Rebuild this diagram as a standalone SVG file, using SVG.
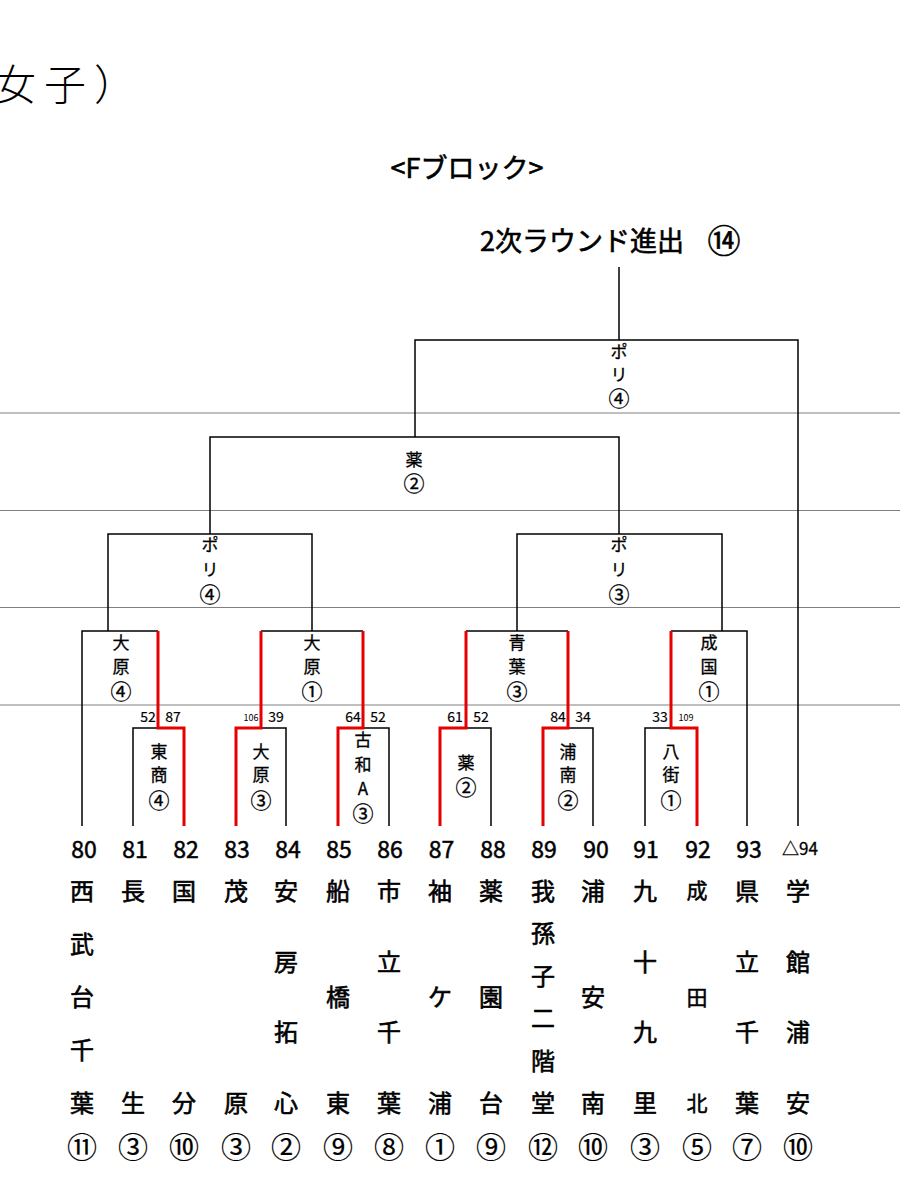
<svg xmlns="http://www.w3.org/2000/svg" width="900" height="1200" viewBox="0 0 900 1200">
<style>
text{font-family:"Noto Sans CJK JP","Noto Sans CJK SC",sans-serif;fill:#000}
.b{stroke:#000;stroke-width:1.5;fill:none}
.r{stroke:#e60000;stroke-width:3;fill:none}
.g{stroke:#808080;stroke-width:1}
.lb{font-size:17px;text-anchor:middle;stroke:#000;stroke-width:0.3}
.lc{font-size:21px}
.sc{font-size:14px;text-anchor:middle;stroke:#000;stroke-width:0.2}
.ss{font-size:9px;text-anchor:middle}
.num{font-size:23px;text-anchor:middle;stroke:#000;stroke-width:0.5}
.nm{font-size:24px;text-anchor:middle;stroke:#000;stroke-width:0.6}
.nm2{font-size:21px;text-anchor:middle;stroke:#000;stroke-width:0.5}
.ci{font-size:30px;text-anchor:middle;stroke:#000;stroke-width:0.2}
.hd{stroke:#000;stroke-width:0.6}
</style>
<rect width="900" height="1200" fill="#fff"/>
<g id="titles">
<text x="-6" y="100" font-size="42" font-weight="300" letter-spacing="8">女子）</text>
<text class="hd" x="467" y="178" font-size="27" text-anchor="middle">&lt;Fブロック&gt;</text>
<text class="hd" x="480" y="251" font-size="27">2次ラウンド進出</text>
<text class="hd" x="724" y="253" font-size="33" text-anchor="middle" stroke-width="0.3">⑭</text>
</g>
<g id="grid">
<line class="g" x1="0" y1="413" x2="900" y2="413"/>
<line class="g" x1="0" y1="510.5" x2="900" y2="510.5"/>
<line class="g" x1="0" y1="607.5" x2="900" y2="607.5"/>
<line class="g" x1="0" y1="705" x2="900" y2="705"/>
</g>
<g id="connectors">
<path class="b" d="M619,267V340M415,437V340H798V826"/>
<path class="b" d="M210,534V437H619V534"/>
<path class="b" d="M108,631V534H312V631"/>
<path class="b" d="M517,631V534H722V631"/>
<path class="b" d="M82,826V631H158"/>
<path class="b" d="M261,631H363"/>
<path class="b" d="M466,631H568"/>
<path class="b" d="M671,631H747V826"/>
<path class="b" d="M133,826V728H158"/>
<path class="b" d="M286,826V728H261"/>
<path class="b" d="M389,826V728H363"/>
<path class="b" d="M491,826V728H466"/>
<path class="b" d="M593,826V728H568"/>
<path class="b" d="M645,826V728H671"/>
<path class="r" d="M158,631V728H184V826"/>
<path class="r" d="M261,631V728H236V826"/>
<path class="r" d="M363,631V728H338V826"/>
<path class="r" d="M466,631V728H440V826"/>
<path class="r" d="M568,631V728H543V826"/>
<path class="r" d="M671,631V728H697V826"/>
</g>
<g id="scores">
<text class="sc" x="148" y="722">52</text><text class="sc" x="173" y="722">87</text>
<text class="ss" x="251" y="721">106</text><text class="sc" x="276" y="722">39</text>
<text class="sc" x="353" y="722">64</text><text class="sc" x="378" y="722">52</text>
<text class="sc" x="455" y="722">61</text><text class="sc" x="481" y="722">52</text>
<text class="sc" x="558" y="722">84</text><text class="sc" x="583" y="722">34</text>
<text class="sc" x="660" y="722">33</text><text class="ss" x="686" y="721">109</text>
</g>
<g id="winner-final"><text class="lb"><tspan x="619" y="358">ポ</tspan><tspan x="619" y="381">リ</tspan><tspan class="lc" x="619" y="406">④</tspan></text></g>
<g id="winner-sf1"><text class="lb"><tspan x="414" y="466">薬</tspan><tspan class="lc" x="414" y="491">②</tspan></text></g>
<g id="winner-qf1"><text class="lb"><tspan x="210" y="551">ポ</tspan><tspan x="210" y="576">リ</tspan><tspan class="lc" x="210" y="602">④</tspan></text></g>
<g id="winner-qf2"><text class="lb"><tspan x="619" y="551">ポ</tspan><tspan x="619" y="576">リ</tspan><tspan class="lc" x="619" y="602">③</tspan></text></g>
<g id="winner-r2a"><text class="lb"><tspan x="121" y="649">大</tspan><tspan x="121" y="673">原</tspan><tspan class="lc" x="121" y="699">④</tspan></text></g>
<g id="winner-r2b"><text class="lb"><tspan x="312" y="649">大</tspan><tspan x="312" y="673">原</tspan><tspan class="lc" x="312" y="699">①</tspan></text></g>
<g id="winner-r2c"><text class="lb"><tspan x="517" y="649">青</tspan><tspan x="517" y="673">葉</tspan><tspan class="lc" x="517" y="699">③</tspan></text></g>
<g id="winner-r2d"><text class="lb"><tspan x="709" y="649">成</tspan><tspan x="709" y="673">国</tspan><tspan class="lc" x="709" y="699">①</tspan></text></g>
<g id="winner-r1a"><text class="lb"><tspan x="159" y="758">東</tspan><tspan x="159" y="781">商</tspan><tspan class="lc" x="159" y="808">④</tspan></text></g>
<g id="winner-r1b"><text class="lb"><tspan x="261" y="758">大</tspan><tspan x="261" y="781">原</tspan><tspan class="lc" x="261" y="808">③</tspan></text></g>
<g id="winner-r1c"><text class="lb"><tspan x="363" y="746">古</tspan><tspan x="363" y="771">和</tspan><tspan x="363" y="795">A</tspan><tspan class="lc" x="363" y="821">③</tspan></text></g>
<g id="winner-r1d"><text class="lb"><tspan x="466" y="769">薬</tspan><tspan class="lc" x="466" y="795">②</tspan></text></g>
<g id="winner-r1e"><text class="lb"><tspan x="568" y="758">浦</tspan><tspan x="568" y="781">南</tspan><tspan class="lc" x="568" y="808">②</tspan></text></g>
<g id="winner-r1f"><text class="lb"><tspan x="671" y="758">八</tspan><tspan x="671" y="781">街</tspan><tspan class="lc" x="671" y="808">①</tspan></text></g>
<g id="team-80"><text class="num" x="84" y="858">80</text><text class="nm"><tspan x="82" y="900">西</tspan><tspan x="82" y="953">武</tspan><tspan x="82" y="1006">台</tspan><tspan x="82" y="1059">千</tspan><tspan x="82" y="1112">葉</tspan></text><text class="ci" x="82" y="1158">⑪</text></g>
<g id="team-81"><text class="num" x="135" y="858">81</text><text class="nm"><tspan x="133" y="900">長</tspan><tspan x="133" y="1112">生</tspan></text><text class="ci" x="133" y="1158">③</text></g>
<g id="team-82"><text class="num" x="186" y="858">82</text><text class="nm"><tspan x="184" y="900">国</tspan><tspan x="184" y="1112">分</tspan></text><text class="ci" x="184" y="1158">⑩</text></g>
<g id="team-83"><text class="num" x="237" y="858">83</text><text class="nm"><tspan x="236" y="900">茂</tspan><tspan x="236" y="1112">原</tspan></text><text class="ci" x="236" y="1158">③</text></g>
<g id="team-84"><text class="num" x="288" y="858">84</text><text class="nm"><tspan x="286" y="900">安</tspan><tspan x="286" y="971">房</tspan><tspan x="286" y="1041">拓</tspan><tspan x="286" y="1112">心</tspan></text><text class="ci" x="286" y="1158">②</text></g>
<g id="team-85"><text class="num" x="339" y="858">85</text><text class="nm"><tspan x="338" y="900">船</tspan><tspan x="338" y="1006">橋</tspan><tspan x="338" y="1112">東</tspan></text><text class="ci" x="338" y="1158">⑨</text></g>
<g id="team-86"><text class="num" x="390" y="858">86</text><text class="nm"><tspan x="389" y="900">市</tspan><tspan x="389" y="971">立</tspan><tspan x="389" y="1041">千</tspan><tspan x="389" y="1112">葉</tspan></text><text class="ci" x="389" y="1158">⑧</text></g>
<g id="team-87"><text class="num" x="441.5" y="858">87</text><text class="nm"><tspan x="440" y="900">袖</tspan><tspan x="440" y="1006">ケ</tspan><tspan x="440" y="1112">浦</tspan></text><text class="ci" x="440" y="1158">①</text></g>
<g id="team-88"><text class="num" x="493" y="858">88</text><text class="nm"><tspan x="491" y="900">薬</tspan><tspan x="491" y="1006">園</tspan><tspan x="491" y="1112">台</tspan></text><text class="ci" x="491" y="1158">⑨</text></g>
<g id="team-89"><text class="num" x="544" y="858">89</text><text class="nm"><tspan x="543" y="900">我</tspan><tspan x="543" y="942">孫</tspan><tspan x="543" y="985">子</tspan><tspan x="543" y="1027">二</tspan><tspan x="543" y="1070">階</tspan><tspan x="543" y="1112">堂</tspan></text><text class="ci" x="543" y="1158">⑫</text></g>
<g id="team-90"><text class="num" x="596" y="858">90</text><text class="nm"><tspan x="593" y="900">浦</tspan><tspan x="593" y="1006">安</tspan><tspan x="593" y="1112">南</tspan></text><text class="ci" x="593" y="1158">⑩</text></g>
<g id="team-91"><text class="num" x="646" y="858">91</text><text class="nm"><tspan x="645" y="900">九</tspan><tspan x="645" y="971">十</tspan><tspan x="645" y="1041">九</tspan><tspan x="645" y="1112">里</tspan></text><text class="ci" x="645" y="1158">③</text></g>
<g id="team-92"><text class="num" x="698" y="858">92</text><text class="nm2"><tspan x="697" y="898">成</tspan><tspan x="697" y="1005">田</tspan><tspan x="697" y="1111">北</tspan></text><text class="ci" x="697" y="1158">⑤</text></g>
<g id="team-93"><text class="num" x="749" y="858">93</text><text class="nm"><tspan x="747" y="900">県</tspan><tspan x="747" y="971">立</tspan><tspan x="747" y="1041">千</tspan><tspan x="747" y="1112">葉</tspan></text><text class="ci" x="747" y="1158">⑦</text></g>
<g id="team-94"><text x="800" y="855" font-size="17" text-anchor="middle" stroke="#000" stroke-width="0.3">△94</text><text class="nm"><tspan x="798" y="900">学</tspan><tspan x="798" y="971">館</tspan><tspan x="798" y="1041">浦</tspan><tspan x="798" y="1112">安</tspan></text><text class="ci" x="798" y="1158">⑩</text></g>
</svg>
